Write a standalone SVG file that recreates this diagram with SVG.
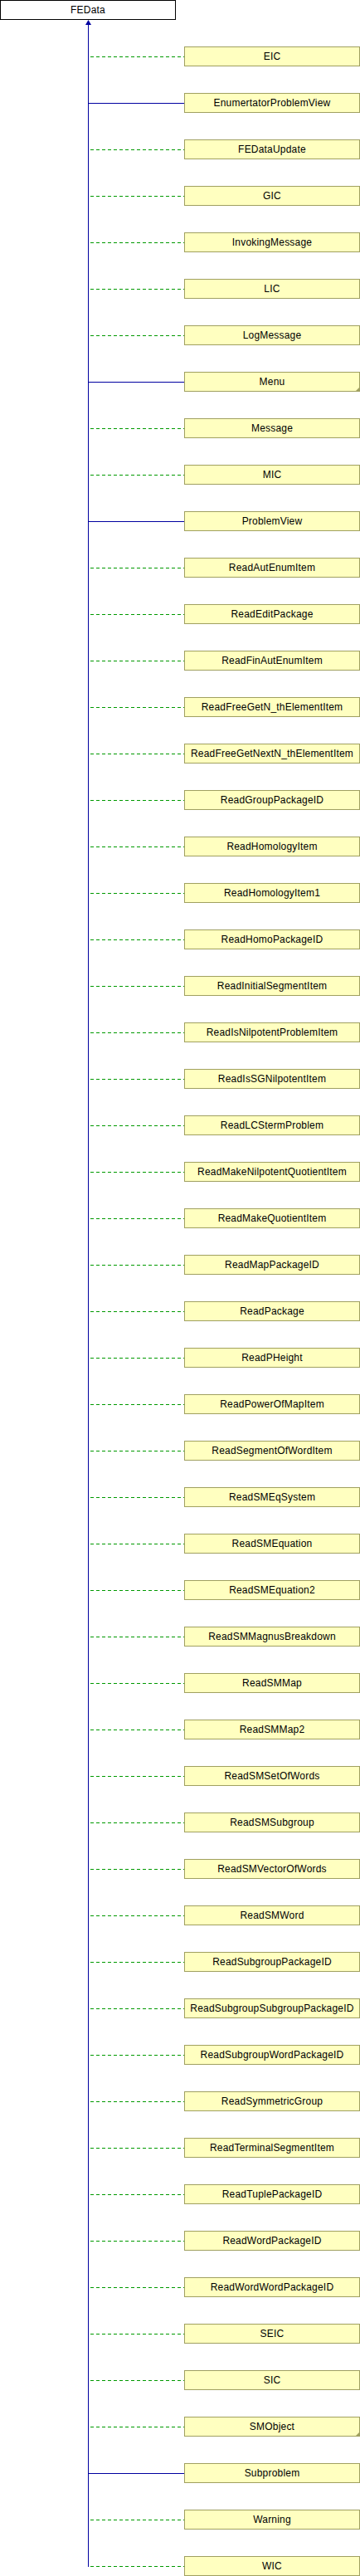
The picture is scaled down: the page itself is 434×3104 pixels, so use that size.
<svg xmlns="http://www.w3.org/2000/svg" width="434" height="3104" viewBox="0 0 434 3104">
<style>
.box{fill:#FFFFC0;stroke:#A0A060;stroke-width:1}
.root{fill:#FFFFFF;stroke:#000000;stroke-width:1}
.t{font-family:"Liberation Sans",Arial,sans-serif;font-size:12px;letter-spacing:0.2px;text-anchor:middle;fill:#000000}
.g{stroke:#009900;stroke-width:1;stroke-dasharray:4,3;fill:none}
.b{stroke:#0000A0;stroke-width:1;fill:none}
.c{fill:#A0A060}
</style>
<rect width="434" height="3104" fill="#FFFFFF"/>
<g id="connectors">
<line class="b" x1="106.5" y1="28" x2="106.5" y2="3093"/>
<polygon points="106.5,24 103,30 110,30" fill="#0000A0"/>
<line class="g" x1="109" y1="68.5" x2="222" y2="68.5"/>
<line class="b" x1="106.5" y1="124.5" x2="222" y2="124.5"/>
<line class="g" x1="109" y1="180.5" x2="222" y2="180.5"/>
<line class="g" x1="109" y1="236.5" x2="222" y2="236.5"/>
<line class="g" x1="109" y1="292.5" x2="222" y2="292.5"/>
<line class="g" x1="109" y1="348.5" x2="222" y2="348.5"/>
<line class="g" x1="109" y1="404.5" x2="222" y2="404.5"/>
<line class="b" x1="106.5" y1="460.5" x2="222" y2="460.5"/>
<line class="g" x1="109" y1="516.5" x2="222" y2="516.5"/>
<line class="g" x1="109" y1="572.5" x2="222" y2="572.5"/>
<line class="b" x1="106.5" y1="628.5" x2="222" y2="628.5"/>
<line class="g" x1="109" y1="684.5" x2="222" y2="684.5"/>
<line class="g" x1="109" y1="740.5" x2="222" y2="740.5"/>
<line class="g" x1="109" y1="796.5" x2="222" y2="796.5"/>
<line class="g" x1="109" y1="852.5" x2="222" y2="852.5"/>
<line class="g" x1="109" y1="908.5" x2="222" y2="908.5"/>
<line class="g" x1="109" y1="964.5" x2="222" y2="964.5"/>
<line class="g" x1="109" y1="1020.5" x2="222" y2="1020.5"/>
<line class="g" x1="109" y1="1076.5" x2="222" y2="1076.5"/>
<line class="g" x1="109" y1="1132.5" x2="222" y2="1132.5"/>
<line class="g" x1="109" y1="1188.5" x2="222" y2="1188.5"/>
<line class="g" x1="109" y1="1244.5" x2="222" y2="1244.5"/>
<line class="g" x1="109" y1="1300.5" x2="222" y2="1300.5"/>
<line class="g" x1="109" y1="1356.5" x2="222" y2="1356.5"/>
<line class="g" x1="109" y1="1412.5" x2="222" y2="1412.5"/>
<line class="g" x1="109" y1="1468.5" x2="222" y2="1468.5"/>
<line class="g" x1="109" y1="1524.5" x2="222" y2="1524.5"/>
<line class="g" x1="109" y1="1580.5" x2="222" y2="1580.5"/>
<line class="g" x1="109" y1="1636.5" x2="222" y2="1636.5"/>
<line class="g" x1="109" y1="1692.5" x2="222" y2="1692.5"/>
<line class="g" x1="109" y1="1748.5" x2="222" y2="1748.5"/>
<line class="g" x1="109" y1="1804.5" x2="222" y2="1804.5"/>
<line class="g" x1="109" y1="1860.5" x2="222" y2="1860.5"/>
<line class="g" x1="109" y1="1916.5" x2="222" y2="1916.5"/>
<line class="g" x1="109" y1="1972.5" x2="222" y2="1972.5"/>
<line class="g" x1="109" y1="2028.5" x2="222" y2="2028.5"/>
<line class="g" x1="109" y1="2084.5" x2="222" y2="2084.5"/>
<line class="g" x1="109" y1="2140.5" x2="222" y2="2140.5"/>
<line class="g" x1="109" y1="2196.5" x2="222" y2="2196.5"/>
<line class="g" x1="109" y1="2252.5" x2="222" y2="2252.5"/>
<line class="g" x1="109" y1="2308.5" x2="222" y2="2308.5"/>
<line class="g" x1="109" y1="2364.5" x2="222" y2="2364.5"/>
<line class="g" x1="109" y1="2420.5" x2="222" y2="2420.5"/>
<line class="g" x1="109" y1="2476.5" x2="222" y2="2476.5"/>
<line class="g" x1="109" y1="2532.5" x2="222" y2="2532.5"/>
<line class="g" x1="109" y1="2588.5" x2="222" y2="2588.5"/>
<line class="g" x1="109" y1="2644.5" x2="222" y2="2644.5"/>
<line class="g" x1="109" y1="2700.5" x2="222" y2="2700.5"/>
<line class="g" x1="109" y1="2756.5" x2="222" y2="2756.5"/>
<line class="g" x1="109" y1="2812.5" x2="222" y2="2812.5"/>
<line class="g" x1="109" y1="2868.5" x2="222" y2="2868.5"/>
<line class="g" x1="109" y1="2924.5" x2="222" y2="2924.5"/>
<line class="b" x1="106.5" y1="2980.5" x2="222" y2="2980.5"/>
<line class="g" x1="109" y1="3036.5" x2="222" y2="3036.5"/>
<line class="g" x1="109" y1="3092.5" x2="222" y2="3092.5"/>
</g>
<g id="FEData"><rect class="root" x="0.5" y="0.5" width="211" height="23"/><text class="t" x="106" y="16">FEData</text></g>
<g id="EIC"><rect class="box" x="222.5" y="56.5" width="211" height="23"/><text class="t" x="328" y="72">EIC</text></g>
<g id="EnumertatorProblemView"><rect class="box" x="222.5" y="112.5" width="211" height="23"/><text class="t" x="328" y="128">EnumertatorProblemView</text></g>
<g id="FEDataUpdate"><rect class="box" x="222.5" y="168.5" width="211" height="23"/><text class="t" x="328" y="184">FEDataUpdate</text></g>
<g id="GIC"><rect class="box" x="222.5" y="224.5" width="211" height="23"/><text class="t" x="328" y="240">GIC</text></g>
<g id="InvokingMessage"><rect class="box" x="222.5" y="280.5" width="211" height="23"/><text class="t" x="328" y="296">InvokingMessage</text></g>
<g id="LIC"><rect class="box" x="222.5" y="336.5" width="211" height="23"/><text class="t" x="328" y="352">LIC</text></g>
<g id="LogMessage"><rect class="box" x="222.5" y="392.5" width="211" height="23"/><text class="t" x="328" y="408">LogMessage</text></g>
<g id="Menu"><rect class="box" x="222.5" y="448.5" width="211" height="23"/><polygon class="c" points="434,466 434,472 428,472"/><text class="t" x="328" y="464">Menu</text></g>
<g id="Message"><rect class="box" x="222.5" y="504.5" width="211" height="23"/><text class="t" x="328" y="520">Message</text></g>
<g id="MIC"><rect class="box" x="222.5" y="560.5" width="211" height="23"/><text class="t" x="328" y="576">MIC</text></g>
<g id="ProblemView"><rect class="box" x="222.5" y="616.5" width="211" height="23"/><text class="t" x="328" y="632">ProblemView</text></g>
<g id="ReadAutEnumItem"><rect class="box" x="222.5" y="672.5" width="211" height="23"/><text class="t" x="328" y="688">ReadAutEnumItem</text></g>
<g id="ReadEditPackage"><rect class="box" x="222.5" y="728.5" width="211" height="23"/><text class="t" x="328" y="744">ReadEditPackage</text></g>
<g id="ReadFinAutEnumItem"><rect class="box" x="222.5" y="784.5" width="211" height="23"/><text class="t" x="328" y="800">ReadFinAutEnumItem</text></g>
<g id="ReadFreeGetN_thElementItem"><rect class="box" x="222.5" y="840.5" width="211" height="23"/><text class="t" x="328" y="856">ReadFreeGetN_thElementItem</text></g>
<g id="ReadFreeGetNextN_thElementItem"><rect class="box" x="222.5" y="896.5" width="211" height="23"/><text class="t" x="328" y="912">ReadFreeGetNextN_thElementItem</text></g>
<g id="ReadGroupPackageID"><rect class="box" x="222.5" y="952.5" width="211" height="23"/><text class="t" x="328" y="968">ReadGroupPackageID</text></g>
<g id="ReadHomologyItem"><rect class="box" x="222.5" y="1008.5" width="211" height="23"/><text class="t" x="328" y="1024">ReadHomologyItem</text></g>
<g id="ReadHomologyItem1"><rect class="box" x="222.5" y="1064.5" width="211" height="23"/><text class="t" x="328" y="1080">ReadHomologyItem1</text></g>
<g id="ReadHomoPackageID"><rect class="box" x="222.5" y="1120.5" width="211" height="23"/><text class="t" x="328" y="1136">ReadHomoPackageID</text></g>
<g id="ReadInitialSegmentItem"><rect class="box" x="222.5" y="1176.5" width="211" height="23"/><text class="t" x="328" y="1192">ReadInitialSegmentItem</text></g>
<g id="ReadIsNilpotentProblemItem"><rect class="box" x="222.5" y="1232.5" width="211" height="23"/><text class="t" x="328" y="1248">ReadIsNilpotentProblemItem</text></g>
<g id="ReadIsSGNilpotentItem"><rect class="box" x="222.5" y="1288.5" width="211" height="23"/><text class="t" x="328" y="1304">ReadIsSGNilpotentItem</text></g>
<g id="ReadLCStermProblem"><rect class="box" x="222.5" y="1344.5" width="211" height="23"/><text class="t" x="328" y="1360">ReadLCStermProblem</text></g>
<g id="ReadMakeNilpotentQuotientItem"><rect class="box" x="222.5" y="1400.5" width="211" height="23"/><text class="t" x="328" y="1416">ReadMakeNilpotentQuotientItem</text></g>
<g id="ReadMakeQuotientItem"><rect class="box" x="222.5" y="1456.5" width="211" height="23"/><text class="t" x="328" y="1472">ReadMakeQuotientItem</text></g>
<g id="ReadMapPackageID"><rect class="box" x="222.5" y="1512.5" width="211" height="23"/><text class="t" x="328" y="1528">ReadMapPackageID</text></g>
<g id="ReadPackage"><rect class="box" x="222.5" y="1568.5" width="211" height="23"/><text class="t" x="328" y="1584">ReadPackage</text></g>
<g id="ReadPHeight"><rect class="box" x="222.5" y="1624.5" width="211" height="23"/><text class="t" x="328" y="1640">ReadPHeight</text></g>
<g id="ReadPowerOfMapItem"><rect class="box" x="222.5" y="1680.5" width="211" height="23"/><text class="t" x="328" y="1696">ReadPowerOfMapItem</text></g>
<g id="ReadSegmentOfWordItem"><rect class="box" x="222.5" y="1736.5" width="211" height="23"/><text class="t" x="328" y="1752">ReadSegmentOfWordItem</text></g>
<g id="ReadSMEqSystem"><rect class="box" x="222.5" y="1792.5" width="211" height="23"/><text class="t" x="328" y="1808">ReadSMEqSystem</text></g>
<g id="ReadSMEquation"><rect class="box" x="222.5" y="1848.5" width="211" height="23"/><text class="t" x="328" y="1864">ReadSMEquation</text></g>
<g id="ReadSMEquation2"><rect class="box" x="222.5" y="1904.5" width="211" height="23"/><text class="t" x="328" y="1920">ReadSMEquation2</text></g>
<g id="ReadSMMagnusBreakdown"><rect class="box" x="222.5" y="1960.5" width="211" height="23"/><text class="t" x="328" y="1976">ReadSMMagnusBreakdown</text></g>
<g id="ReadSMMap"><rect class="box" x="222.5" y="2016.5" width="211" height="23"/><text class="t" x="328" y="2032">ReadSMMap</text></g>
<g id="ReadSMMap2"><rect class="box" x="222.5" y="2072.5" width="211" height="23"/><text class="t" x="328" y="2088">ReadSMMap2</text></g>
<g id="ReadSMSetOfWords"><rect class="box" x="222.5" y="2128.5" width="211" height="23"/><text class="t" x="328" y="2144">ReadSMSetOfWords</text></g>
<g id="ReadSMSubgroup"><rect class="box" x="222.5" y="2184.5" width="211" height="23"/><text class="t" x="328" y="2200">ReadSMSubgroup</text></g>
<g id="ReadSMVectorOfWords"><rect class="box" x="222.5" y="2240.5" width="211" height="23"/><text class="t" x="328" y="2256">ReadSMVectorOfWords</text></g>
<g id="ReadSMWord"><rect class="box" x="222.5" y="2296.5" width="211" height="23"/><text class="t" x="328" y="2312">ReadSMWord</text></g>
<g id="ReadSubgroupPackageID"><rect class="box" x="222.5" y="2352.5" width="211" height="23"/><text class="t" x="328" y="2368">ReadSubgroupPackageID</text></g>
<g id="ReadSubgroupSubgroupPackageID"><rect class="box" x="222.5" y="2408.5" width="211" height="23"/><text class="t" x="328" y="2424">ReadSubgroupSubgroupPackageID</text></g>
<g id="ReadSubgroupWordPackageID"><rect class="box" x="222.5" y="2464.5" width="211" height="23"/><text class="t" x="328" y="2480">ReadSubgroupWordPackageID</text></g>
<g id="ReadSymmetricGroup"><rect class="box" x="222.5" y="2520.5" width="211" height="23"/><text class="t" x="328" y="2536">ReadSymmetricGroup</text></g>
<g id="ReadTerminalSegmentItem"><rect class="box" x="222.5" y="2576.5" width="211" height="23"/><text class="t" x="328" y="2592">ReadTerminalSegmentItem</text></g>
<g id="ReadTuplePackageID"><rect class="box" x="222.5" y="2632.5" width="211" height="23"/><text class="t" x="328" y="2648">ReadTuplePackageID</text></g>
<g id="ReadWordPackageID"><rect class="box" x="222.5" y="2688.5" width="211" height="23"/><text class="t" x="328" y="2704">ReadWordPackageID</text></g>
<g id="ReadWordWordPackageID"><rect class="box" x="222.5" y="2744.5" width="211" height="23"/><text class="t" x="328" y="2760">ReadWordWordPackageID</text></g>
<g id="SEIC"><rect class="box" x="222.5" y="2800.5" width="211" height="23"/><text class="t" x="328" y="2816">SEIC</text></g>
<g id="SIC"><rect class="box" x="222.5" y="2856.5" width="211" height="23"/><text class="t" x="328" y="2872">SIC</text></g>
<g id="SMObject"><rect class="box" x="222.5" y="2912.5" width="211" height="23"/><polygon class="c" points="434,2930 434,2936 428,2936"/><text class="t" x="328" y="2928">SMObject</text></g>
<g id="Subproblem"><rect class="box" x="222.5" y="2968.5" width="211" height="23"/><text class="t" x="328" y="2984">Subproblem</text></g>
<g id="Warning"><rect class="box" x="222.5" y="3024.5" width="211" height="23"/><text class="t" x="328" y="3040">Warning</text></g>
<g id="WIC"><rect class="box" x="222.5" y="3080.5" width="211" height="23"/><text class="t" x="328" y="3096">WIC</text></g>
</svg>
